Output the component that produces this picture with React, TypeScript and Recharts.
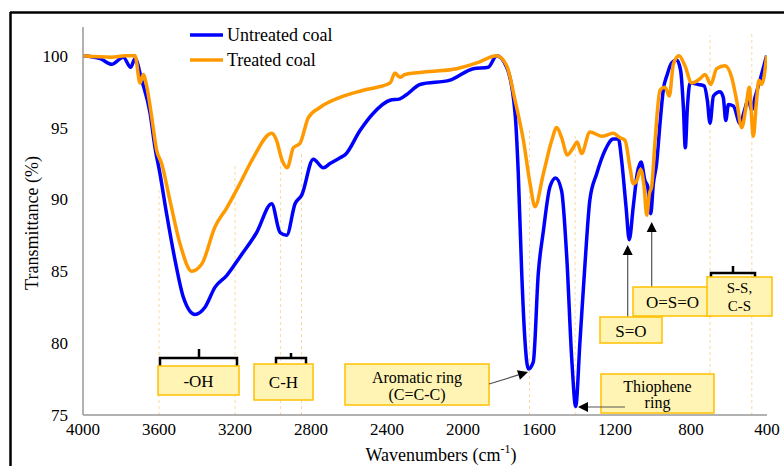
import React from "react";
import { LineChart, Line, XAxis, YAxis, ReferenceLine } from "recharts";

// wavenumber (cm-1) / transmittance (%)
const untreatedWn = [
  4000, 3910, 3849, 3788, 3749, 3726, 3691, 3647, 3621, 3595, 3560, 3516, 3472,
  3411, 3358, 3305, 3244, 3174, 3086, 3007, 2963, 2928, 2884, 2849, 2788, 2735,
  2700, 2647, 2621, 2542, 2472, 2384, 2332, 2296, 2226, 2068, 1946, 1867, 1823,
  1770, 1726, 1709, 1691, 1674, 1656, 1630, 1604, 1577, 1542, 1512, 1481, 1454,
  1428, 1407, 1384, 1358, 1332, 1296, 1253, 1209, 1182, 1165, 1142, 1125, 1104,
  1083, 1063, 1042, 1028, 1012, 998, 981, 963, 946, 925, 902, 875, 855, 840, 830,
  819, 805, 761, 731, 714, 700, 682, 647, 630, 617, 603, 577, 542, 516, 498, 481,
  463, 437, 402,
];
const untreatedT = [
  100, 99.8, 99.4, 99.9, 99.2, 99.8, 98.3, 96.0, 93.6, 91.8, 89.0, 85.8, 83.2,
  82.0, 82.5, 83.9, 84.7, 86.0, 87.7, 89.7, 87.7, 87.5, 89.7, 90.3, 92.8, 92.2,
  92.5, 92.9, 93.1, 94.8, 96.0, 96.9, 97.0, 97.3, 98.0, 98.3, 99.1, 99.2, 100,
  99.2, 96.0, 91.8, 84.9, 80.2, 78.2, 78.7, 84.8, 87.8, 90.9, 91.5, 90.6, 86.0,
  79.0, 75.6, 80.2, 85.5, 90.0, 91.8, 93.4, 94.2, 94.2, 92.7, 89.5, 87.2, 89.5,
  91.8, 92.6, 91.3, 90.9, 89.0, 91.1, 92.5, 95.3, 97.6, 98.7, 99.5, 99.7, 99.0,
  96.4, 93.6, 96.4, 98.1, 98.0, 97.9, 96.9, 95.3, 97.2, 97.5, 97.1, 95.5, 96.6,
  96.5, 95.3, 96.3, 97.0, 96.2, 97.1, 98.3, 100,
];

const treatedWn = [
  4000, 3849, 3779, 3726, 3700, 3683, 3665, 3638, 3612, 3586, 3542, 3489, 3428,
  3375, 3305, 3244, 3174, 3104, 3007, 2981, 2954, 2925, 2893, 2858, 2814, 2753,
  2647, 2525, 2384, 2358, 2332, 2305, 2174, 2033, 1928, 1823, 1770, 1726, 1682,
  1647, 1621, 1577, 1533, 1507, 1481, 1451, 1420, 1399, 1376, 1332, 1270, 1209,
  1174, 1147, 1121, 1104, 1086, 1065, 1047, 1033, 1019, 1007, 989, 963, 937, 914,
  893, 863, 832, 796, 753, 726, 696, 665, 621, 586, 560, 533, 511, 493, 472, 455,
  442, 428, 416, 402,
];
const treatedT = [
  100, 99.9, 100, 100, 98.1, 98.7, 97.9, 95.7, 93.4, 92.5, 89.9, 86.9, 85.0,
  85.5, 88.1, 89.4, 91.1, 92.9, 94.6, 94.1, 92.8, 92.2, 93.6, 93.9, 95.7, 96.4,
  97.1, 97.6, 98.1, 98.8, 98.5, 98.7, 98.9, 99.1, 99.5, 100, 99.3, 96.9, 94.1,
  91.1, 89.5, 91.8, 94.1, 95.0, 94.3, 93.1, 93.6, 94.0, 93.2, 94.7, 94.4, 94.6,
  94.3, 94.1, 92.2, 91.1, 91.3, 92.1, 90.9, 88.9, 90.4, 90.9, 94.1, 97.6, 97.8,
  97.2, 99.4, 100, 99.3, 98.1, 98.4, 98.7, 98.0, 99.1, 99.3, 98.5, 96.9, 95.0,
  96.4, 97.8, 94.4, 96.9, 98.3, 98.0, 98.5, 100,
];

const xTicks = [4000, 3600, 3200, 2800, 2400, 2000, 1600, 1200, 800, 400];
const yTicks = [75, 80, 85, 90, 95, 100];

// band positions (cm-1) and how high each guide line reaches (%)
const guideWn = [3600, 3200, 2960, 2850, 1650, 1410, 700, 480];
const guideTop = [90.8, 92.4, 93.2, 93.2, 94.9, 94.6, 101.4, 101.6];

const untreated = untreatedWn.map((wn, i) => ({ wn, t: untreatedT[i] }));
const treated = treatedWn.map((wn, i) => ({ wn, t: treatedT[i] }));

const FONT = "Liberation Serif";
const BLUE = "#0000FF";
const ORANGE = "#FF9900";
const BOX_FILL = "#FFF4B3";
const BOX_STROKE = "#FFC000";
const txt = { fontFamily: FONT };

const Box = ({ x, y, w, h, lines, ys, size = 17 }: any) => (
  <g>
    <rect x={x} y={y} width={w} height={h} fill={BOX_FILL} stroke={BOX_STROKE} strokeWidth={1.5} />
    {lines.map((l: string, i: number) => (
      <text
        key={i}
        x={x + w / 2}
        y={ys[i]}
        textAnchor="middle"
        dominantBaseline="central"
        fontSize={size}
        style={txt}
        fill="#000"
      >
        {l}
      </text>
    ))}
  </g>
);

const Brace = ({ x1, x2, xm, yh, yend, ytip }: any) => (
  <path
    d={`M${x1},${yend} L${x1},${yh} L${x2},${yh} L${x2},${yend} M${xm},${yh} L${xm},${ytip}`}
    fill="none"
    stroke="#000"
    strokeWidth={2.5}
  />
);

const Arrow = ({ x1, y1, x2, y2 }: any) => {
  const a = Math.atan2(y2 - y1, x2 - x1);
  const L = 10;
  const W = 5;
  const bx = x2 - L * Math.cos(a);
  const by = y2 - L * Math.sin(a);
  const px = -Math.sin(a) * W;
  const py = Math.cos(a) * W;
  return (
    <g>
      <line x1={x1} y1={y1} x2={bx} y2={by} stroke="#555" strokeWidth={1.2} />
      <polygon points={`${x2},${y2} ${bx + px},${by + py} ${bx - px},${by - py}`} fill="#000" />
    </g>
  );
};

export default function App() {
  return (
    <div
      style={{
        position: "absolute",
        left: 0,
        top: 0,
        width: 784,
        height: 466,
        overflow: "hidden",
        background: "#fff",
        fontFamily: FONT,
      }}
    >
      <LineChart width={784} height={466} margin={{ top: 27, right: 17, bottom: 21, left: 23 }}>
        <XAxis
          type="number"
          dataKey="wn"
          domain={[400, 4000]}
          ticks={xTicks}
          reversed
          allowDataOverflow
          height={30}
          tickLine={false}
          axisLine={{ stroke: "#999", strokeWidth: 1.5 }}
          tick={{ fill: "#000", fontSize: 17, fontFamily: FONT, style: txt }}
        />
        <YAxis
          type="number"
          dataKey="t"
          domain={[75, 102]}
          ticks={yTicks}
          allowDataOverflow
          width={60}
          tickLine={false}
          tickMargin={9}
          axisLine={{ stroke: "#999", strokeWidth: 1.5 }}
          tick={{ fill: "#000", fontSize: 17, fontFamily: FONT, style: txt }}
        />
        {guideWn.map((wn, i) => (
          <ReferenceLine
            key={wn}
            segment={[
              { x: wn, y: 75 },
              { x: wn, y: guideTop[i] },
            ]}
            stroke="#FCD9A0"
            strokeDasharray="3 3"
            strokeWidth={1}
          />
        ))}
        <Line
          data={untreated}
          dataKey="t"
          type="monotone"
          stroke={BLUE}
          strokeWidth={3.5}
          dot={false}
          isAnimationActive={false}
          name="Untreated coal"
        />
        <Line
          data={treated}
          dataKey="t"
          type="monotone"
          stroke={ORANGE}
          strokeWidth={3.5}
          dot={false}
          isAnimationActive={false}
          name="Treated coal"
        />
      </LineChart>

      <svg
        width={784}
        height={466}
        style={{ position: "absolute", left: 0, top: 0, pointerEvents: "none", fontFamily: FONT }}
      >
        {/* frame */}
        <line x1={10} y1={12.5} x2={784} y2={12.5} stroke="#000" strokeWidth={2.5} />
        <line x1={10.5} y1={12} x2={10.5} y2={466} stroke="#000" strokeWidth={2.5} />

        {/* legend */}
        <line x1={190} y1={35} x2={223} y2={35} stroke={BLUE} strokeWidth={3.5} />
        <text x={227} y={35} dominantBaseline="central" fontSize={18} style={txt} fill="#000">
          Untreated coal
        </text>
        <line x1={190} y1={60} x2={223} y2={60} stroke={ORANGE} strokeWidth={3.5} />
        <text x={227} y={60} dominantBaseline="central" fontSize={18} style={txt} fill="#000">
          Treated coal
        </text>

        {/* axis titles */}
        <text
          x={32}
          y={223}
          transform="rotate(-90 32 223)"
          textAnchor="middle"
          dominantBaseline="central"
          fontSize={18}
          style={txt}
          fill="#000"
        >
          Transmittance (%)
        </text>
        <text x={441} y={455} textAnchor="middle" dominantBaseline="central" fontSize={18} style={txt} fill="#000">
          Wavenumbers (cm
          <tspan dy={-6} fontSize={12}>-1</tspan>
          <tspan dy={6}>)</tspan>
        </text>

        {/* band annotations */}
        <Brace x1={160} x2={237} xm={199} yh={358} yend={367} ytip={349} />
        <Box x={158} y={366} w={81} h={29} lines={["-OH"]} ys={[381]} />

        <Brace x1={276} x2={306} xm={291} yh={358} yend={364} ytip={353} />
        <Box x={254} y={364} w={59} h={36} lines={["C-H"]} ys={[382]} />

        <Box x={345} y={364} w={144} h={41} lines={["Aromatic ring", "(C=C-C)"]} ys={[377, 394]} size={16} />
        <Arrow x1={489} y1={384} x2={528} y2={372} />

        <Box x={601} y={374} w={113} h={39} lines={["Thiophene", "ring"]} ys={[386, 402]} size={16} />
        <Arrow x1={625} y1={407} x2={578} y2={407} />

        <Arrow x1={651.7} y1={287} x2={651.7} y2={222} />
        <Box x={633} y={287} w={79} h={29} lines={["O=S=O"]} ys={[302]} />

        <Arrow x1={627.7} y1={317} x2={627.7} y2={245} />
        <Box x={600} y={317} w={62} h={26} lines={["S=O"]} ys={[331]} />

        <Brace x1={711} x2={755} xm={733} yh={273} yend={279} ytip={266} />
        <Box x={707} y={277} w={65} h={39} lines={["S-S,", "C-S"]} ys={[288, 306]} size={15} />
      </svg>
    </div>
  );
}
